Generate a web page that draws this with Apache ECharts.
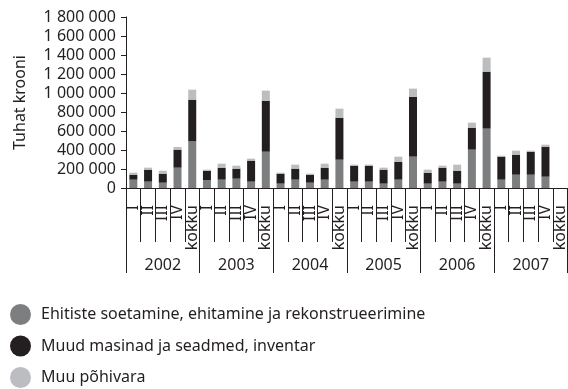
<!DOCTYPE html>
<html>
<head>
<meta charset="utf-8">
<script src="https://cdn.jsdelivr.net/npm/echarts@6/dist/echarts.min.js"></script>
<style>
  html, body { margin: 0; padding: 0; background: #ffffff; }
  #chart { width: 568px; height: 389px; }
</style>
</head>
<body>
<div id="chart"></div>
<script>
// Investments in fixed assets by quarter, thousand kroons
const years = ['2002', '2003', '2004', '2005', '2006', '2007'];
const periods = ['I', 'II', 'III', 'IV', 'kokku'];

const ehitised = [
  88000, 67000, 56000, 214000, 491000,
  81000, 88000, 98000, 67000, 382000,
  46000, 88000, 56000, 88000, 298000,
  67000, 67000, 46000, 88000, 330000,
  46000, 67000, 46000, 404000, 625000,
  88000, 140000, 140000, 119000, null
];
const masinad = [
  52000, 126000, 95000, 190000, 439000,
  101000, 126000, 106000, 221000, 537000,
  105000, 116000, 84000, 126000, 442000,
  168000, 168000, 147000, 189000, 631000,
  115000, 147000, 136000, 231000, 600000,
  242000, 211000, 242000, 316000, null
];
const muuPohivara = [
  21000, 21000, 31000, 28000, 105000,
  11000, 42000, 31000, 21000, 106000,
  10000, 42000, 11000, 42000, 95000,
  11000, 11000, 21000, 53000, 85000,
  32000, 21000, 64000, 53000, 147000,
  10000, 42000, 11000, 21000, null
];

const seriesNames = [
  'Ehitiste soetamine, ehitamine ja rekonstrueerimine',
  'Muud masinad ja seadmed, inventar',
  'Muu põhivara'
];
const colors = ['#7d7e80', '#231f20', '#bcbdc0'];

const periodLabels = years.flatMap(() => periods);
const ink = '#231f20';
const font = 'Noto Sans';

const chart = echarts.init(document.getElementById('chart'), null, { renderer: 'canvas' });

function spaced(v) {
  return String(v).replace(/\B(?=(\d{3})+(?!\d))/g, ' ');
}

const bar = (name, data, color) => ({
  name, type: 'bar', stack: 'total', data, barWidth: 8,
  itemStyle: { color }, xAxisIndex: 0
});

chart.setOption({
  animation: false,
  color: colors,
  textStyle: { fontFamily: font, color: ink },
  grid: { left: 126, top: 17, bottom: 201, right: -11, containLabel: false },
  legend: {
    orient: 'vertical', left: 10, top: 304, padding: 0,
    icon: 'circle', itemWidth: 21, itemHeight: 21, itemGap: 10.5,
    textStyle: { fontFamily: font, fontSize: 16, color: ink, padding: [0, 0, 0, 5] },
    data: seriesNames
  },
  xAxis: [
    {
      type: 'category', data: periodLabels, position: 'bottom',
      axisLine: { show: true, lineStyle: { color: ink, width: 1 } },
      axisTick: { show: true, length: 54, interval: 0, lineStyle: { color: ink, width: 1 } },
      axisLabel: { rotate: 90, interval: 0, margin: 17, fontSize: 16, color: ink, fontFamily: font }
    },
    {
      type: 'category', data: years, position: 'bottom',
      axisLine: { show: false },
      axisTick: { show: true, length: 85, interval: 0, lineStyle: { color: ink, width: 1 } },
      axisLabel: { interval: 0, margin: 69, fontSize: 16, color: ink, fontFamily: font }
    }
  ],
  yAxis: {
    type: 'value', min: 0, max: 1800000, interval: 200000,
    name: 'Tuhat krooni', nameLocation: 'middle', nameGap: 98,
    nameTextStyle: { fontSize: 16, color: ink, fontFamily: font },
    axisLine: { show: true, lineStyle: { color: ink, width: 1 } },
    axisTick: { show: true, length: 5, lineStyle: { color: ink, width: 1 } },
    splitLine: { show: false },
    axisLabel: { margin: 10, fontSize: 16, color: ink, fontFamily: font, formatter: spaced }
  },
  series: [
    bar(seriesNames[0], ehitised, colors[0]),
    bar(seriesNames[1], masinad, colors[1]),
    bar(seriesNames[2], muuPohivara, colors[2])
  ]
});
</script>
</body>
</html>
